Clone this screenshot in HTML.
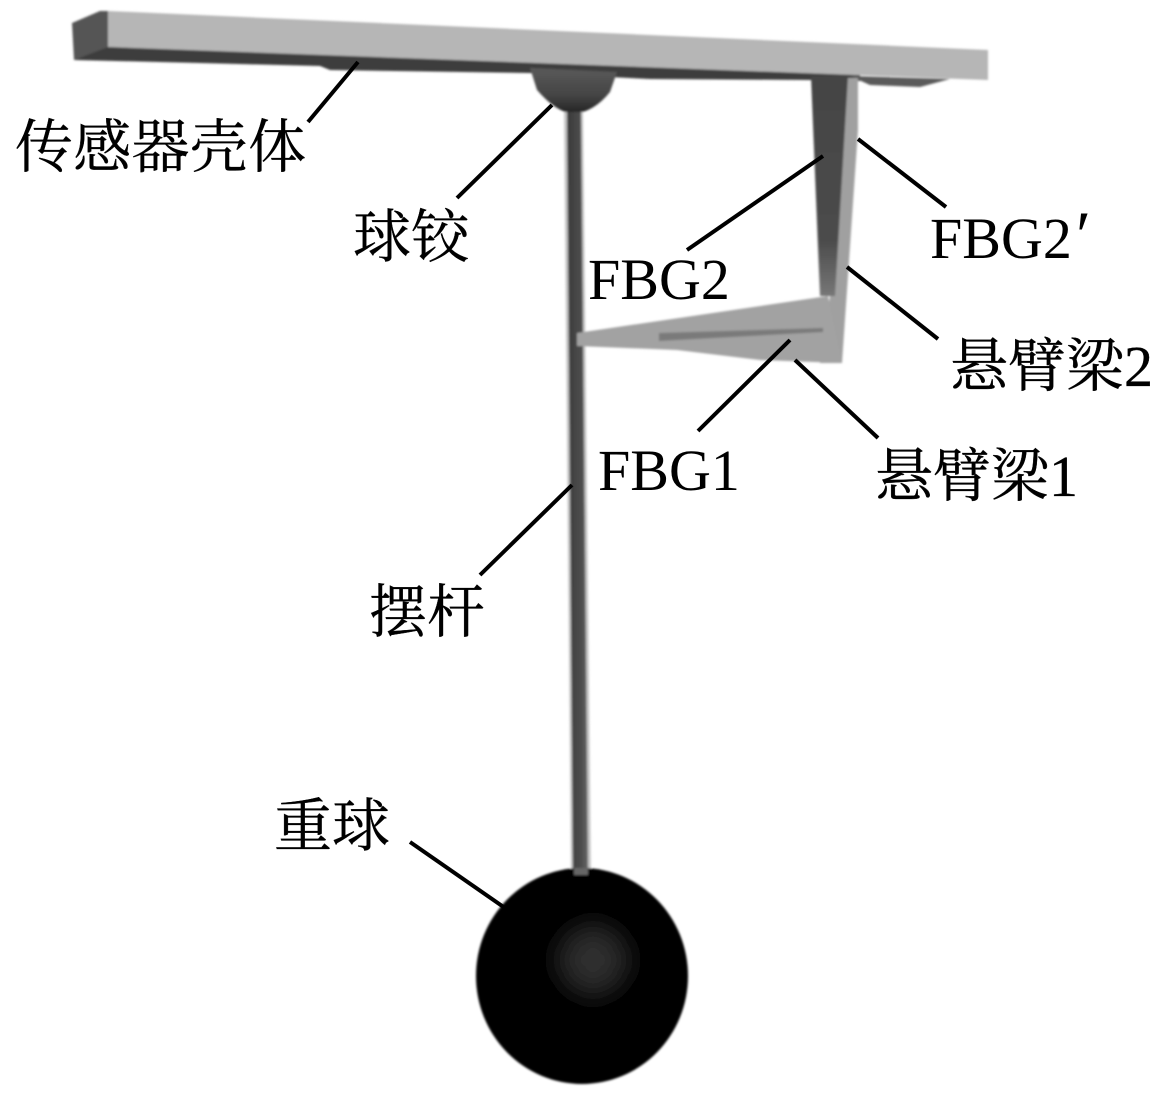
<!DOCTYPE html>
<html><head><meta charset="utf-8">
<style>
html,body{margin:0;padding:0;background:#fff;}
svg{display:block;}
text{fill:#000;stroke:#000;stroke-width:.35px;}
.c{font-family:"Liberation Serif","Noto Serif CJK SC",serif;font-size:58px;}
.l{font-family:"Liberation Serif","Noto Serif CJK SC",serif;font-size:58px;stroke-width:0;}
</style></head>
<body>
<svg width="1170" height="1098" viewBox="0 0 1170 1098" xmlns="http://www.w3.org/2000/svg">
<defs>
<filter id="b" x="-5%" y="-5%" width="110%" height="110%"><feGaussianBlur stdDeviation="1.1"/></filter>
<filter id="t" x="-5%" y="-5%" width="110%" height="110%"><feGaussianBlur stdDeviation=".35"/></filter>
<filter id="g" x="-30%" y="-30%" width="160%" height="160%"><feGaussianBlur stdDeviation="9"/></filter>
<radialGradient id="s" gradientUnits="userSpaceOnUse" cx="593" cy="960" r="50">
<stop offset="0" stop-color="#353535"/><stop offset=".4" stop-color="#2a2a2a"/><stop offset=".75" stop-color="#141414"/><stop offset="1" stop-color="#000" stop-opacity="0"/>
</radialGradient>
<linearGradient id="r" x1="0" x2="1" y1="0" y2="0">
<stop offset="0" stop-color="#3a3a3a"/><stop offset=".7" stop-color="#4e4e4e"/><stop offset="1" stop-color="#666"/>
</linearGradient>
<linearGradient id="j" x1="0" x2="0" y1="0" y2="1">
<stop offset="0" stop-color="#5a5a5a"/><stop offset=".6" stop-color="#444"/><stop offset="1" stop-color="#222"/>
</linearGradient>
<linearGradient id="d" x1="0" x2="0" y1="0" y2="1">
<stop offset="0" stop-color="#444"/><stop offset=".75" stop-color="#4c4c4c"/><stop offset="1" stop-color="#777"/>
</linearGradient>
</defs>
<g filter="url(#b)">
<!-- housing underside -->
<polygon points="74,60 108,46 810,72 860,75 860,81 810,80 650,79 530,73 330,70 320,66 200,63" fill="#3e3e3e"/>
<polygon points="850,76 950,79 920,87 870,85" fill="#5a5a5a"/>
<!-- housing left face -->
<polygon points="72,23 100,11 108,11 108,47 74,60" fill="#555"/>
<!-- housing top face -->
<polygon points="108,11 988,50 988,80 108,47" fill="#b6b6b6"/>
<!-- ball joint -->
<path d="M530,68 L537,90 Q556,112 573,114 Q594,112 610,92 L617,72 Z" fill="url(#j)"/>
<!-- rod halo and rod -->
<polygon points="564,112 583,112 591,875 571,875" fill="#c4c4c4"/>
<polygon points="567,112 581,112 588,875 573,875" fill="url(#r)"/>
<!-- cantilever 2 light -->
<polygon points="847,78 858,78 858,130 842,363 820,363 830,296" fill="#a0a0a0"/>
<!-- cantilever 2 dark -->
<polygon points="811,76 848,76 835,296 820,296" fill="url(#d)"/>
<!-- cantilever 1 -->
<polygon points="577,333 828,296 842,363 760,360 677,350 577,346" fill="#a2a2a2"/>
<polygon points="659,333 823,328 823,332 659,341" fill="#7a7a7a"/>
<!-- sphere -->
<ellipse cx="582" cy="976" rx="106" ry="108" fill="#000"/>
<polygon points="574,868 588,868 588,875 574,875" fill="#666"/>
</g>
<circle cx="593" cy="960" r="50" fill="url(#s)" filter="url(#g)"/>
<g stroke="#000" stroke-width="4" fill="none">
<line x1="358" y1="62" x2="308" y2="122"/>
<line x1="552" y1="105" x2="457" y2="198"/>
<line x1="823" y1="156" x2="687" y2="250"/>
<line x1="858" y1="139" x2="946" y2="207"/>
<line x1="847" y1="267" x2="938" y2="339"/>
<line x1="790" y1="340" x2="698" y2="431"/>
<line x1="795" y1="360" x2="878" y2="438"/>
<line x1="572" y1="485" x2="480" y2="575"/>
<line x1="410" y1="842" x2="505" y2="908"/>
</g>
<g filter="url(#t)">
<text class="c" x="15" y="167" textLength="291" lengthAdjust="spacing">传感器壳体</text>
<text class="c" x="353" y="257">球铰</text>
<text class="l" x="588" y="299">FBG2</text>
<text class="l" x="930" y="258">FBG2<tspan font-style="italic" font-size="68">′</tspan></text>
<text class="c" x="950" y="386">悬臂梁2</text>
<text class="l" x="598" y="490">FBG1</text>
<text class="c" x="875" y="496" font-size="57">悬臂梁1</text>
<text class="c" x="369" y="632">摆杆</text>
<text class="c" x="274" y="846">重球</text>
</g>
</svg>
</body></html>
